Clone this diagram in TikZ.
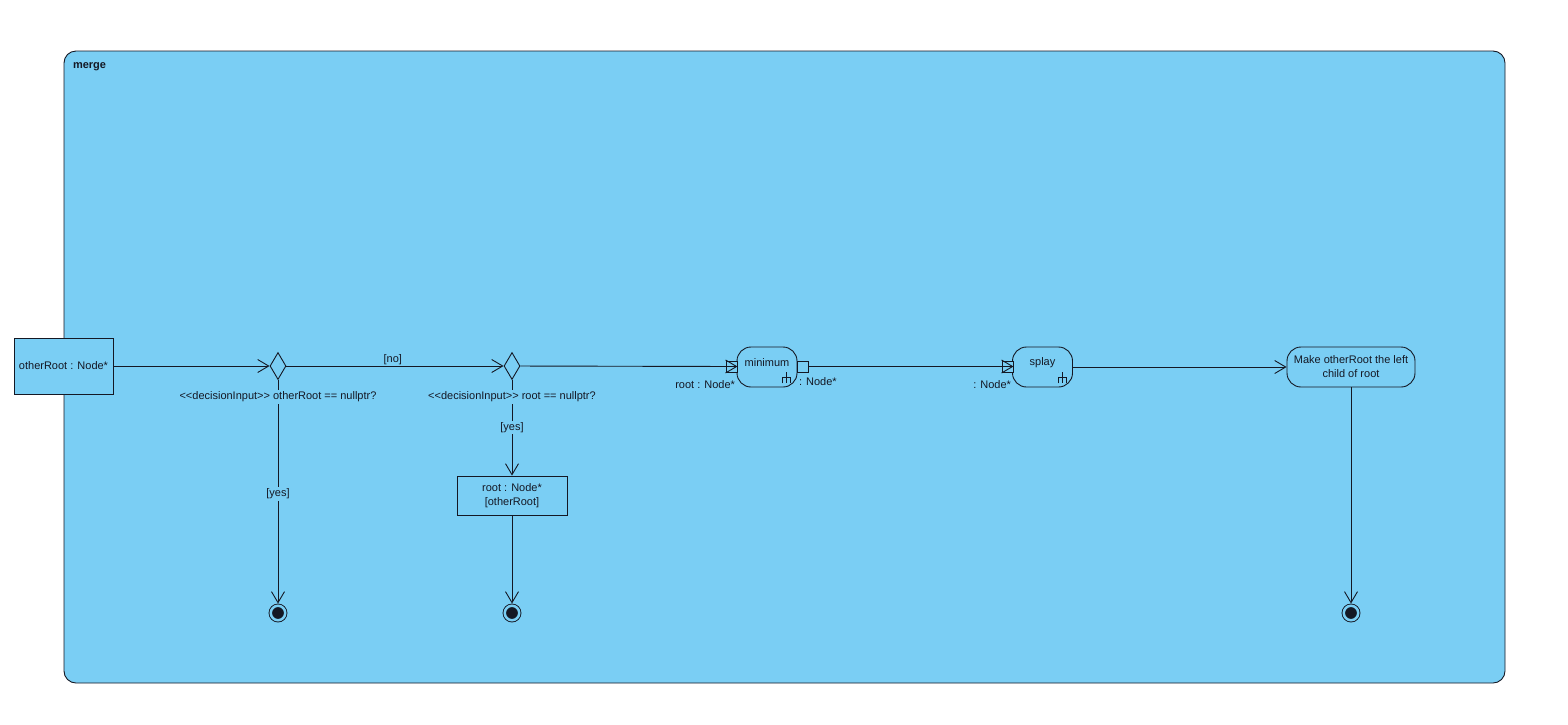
\documentclass[tikz,border=0pt]{standalone}
\usepackage{fontspec}
\setmainfont{Liberation Sans}
\usetikzlibrary{shapes.geometric,arrows.meta}
\definecolor{umlblue}{RGB}{122,206,244}
\definecolor{umlline}{RGB}{20,24,36}
\tikzset{
  every node/.style={font=\fontsize{11}{14}\selectfont, text=umlline},
  flow/.style={draw=umlline, -{Straight Barb[length=11pt,width=13pt]}},
  objnode/.style={draw=umlline, fill=umlblue, rectangle, inner sep=0pt, align=center},
  actnode/.style={draw=umlline, fill=umlblue, rectangle, rounded corners=14pt, minimum height=40pt, inner sep=0pt, align=center},
  decnode/.style={draw=umlline, fill=umlblue, diamond, minimum width=16pt, minimum height=27pt, inner sep=0pt},
  finnode/.style={circle, draw=umlline, fill=umlline, double=umlblue, double distance=2.5pt, minimum size=14.5pt, inner sep=0pt, outer sep=2.25pt},
  pinnode/.style={draw=umlline, fill=umlblue, rectangle, minimum size=11pt, inner sep=0pt},
  guard/.style={fill=umlblue, inner sep=1.5pt},
}
\newcommand\rakeat[1]{\draw[umlline] ([shift={(-11pt,15pt)}]#1.south east) -- ([shift={(-11pt,4pt)}]#1.south east)
  ([shift={(-15pt,4pt)}]#1.south east) -- ([shift={(-15pt,10pt)}]#1.south east) -- ([shift={(-7pt,10pt)}]#1.south east) -- ([shift={(-7pt,4pt)}]#1.south east);}

\begin{document}
\begin{tikzpicture}[x=1pt, y=-1pt, line width=0.9pt]
\useasboundingbox (0,0) rectangle (1568,724);
\node[draw=umlline, fill=umlblue, rounded corners=12pt, minimum width=1441pt, minimum height=632pt,
  label={[anchor=north west, inner sep=0pt, xshift=9pt, yshift=-12pt, font=\fontsize{11}{12}\selectfont\bfseries]north west:merge}] (m) at (784.5,367) {};

\node[objnode, minimum width=99pt, minimum height=56pt] (o1) at (63.5,366) {otherRoot : Node*};
\node[decnode] (d1) at (278,366) {};
\node[decnode] (d2) at (512,366) {};
\node[objnode, minimum width=110pt, minimum height=39pt] (o2) at (512,495.5) {root : Node*\\{[otherRoot]}};

\node[actnode, minimum width=60pt, label={[yshift=4pt]center:minimum}] (a1) at (767,367) {};
\node[pinnode, label={[anchor=north east, inner sep=0pt, xshift=-2pt, yshift=-8pt]south east:{root : Node*}}] (p1) at (731.5,366.5) {};
\node[pinnode, label={[anchor=north west, inner sep=0pt, xshift=2pt, yshift=-5pt]south west:{: Node*}}] (p2) at (802.5,366.5) {};
\node[actnode, minimum width=60pt, label={[yshift=4pt]center:splay}] (a2) at (1042.5,367) {};
\node[pinnode, label={[anchor=north east, inner sep=0pt, xshift=-2pt, yshift=-8pt]south east:{: Node*}}] (p3) at (1007.5,366.5) {};
\node[actnode, minimum width=128pt] (a3) at (1351,367) {Make otherRoot the left\\child of root};
\rakeat{a1}
\rakeat{a2}

\node[finnode] (f1) at (278,613) {};
\node[finnode] (f2) at (512,613) {};
\node[finnode] (f3) at (1351,613) {};

\draw[flow] (o1) -- (d1);
\draw[flow] (d1) -- node[above, inner sep=1pt, pos=0.49] {[no]} (d2);
\draw[flow] (d1) -- node[guard, pos=0.51] {[yes]} (f1);
\draw[flow] (d2) -- node[guard] {[yes]} (o2);
\draw[flow] (o2) -- (f2);
\draw[flow] (d2) -- (p1.east);
\draw[flow] (p2.east) -- (p3.east);
\draw[flow] (a2) -- (a3);
\draw[flow] (a3) -- (f3);

\node[guard, anchor=north] (l1) at ([yshift=-10pt]d1.south) {<{}<decisionInput>{}> otherRoot == nullptr?};
\node[guard, anchor=north] (l2) at ([yshift=-10pt]d2.south) {<{}<decisionInput>{}> root == nullptr?};
\end{tikzpicture}
\end{document}
